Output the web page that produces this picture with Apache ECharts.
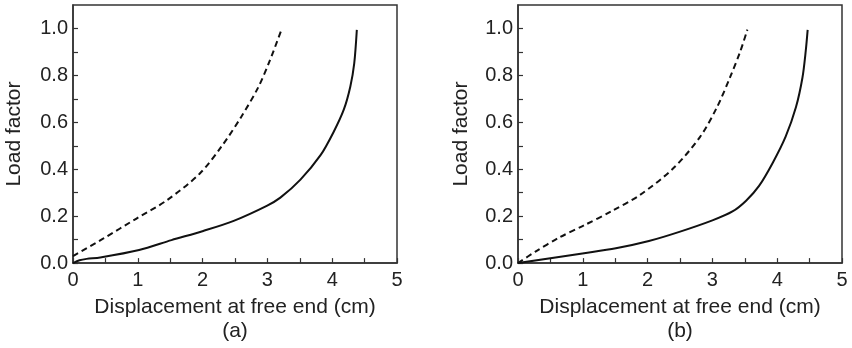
<!DOCTYPE html>
<html><head><meta charset="utf-8">
<script src="https://cdn.jsdelivr.net/npm/echarts@6/dist/echarts.min.js"></script>
<style>html,body{margin:0;padding:0;background:#fff}#c{width:852px;height:348px}</style>
</head><body><div id="c"></div>
<script>
// Panel (a)
const aSolidX = [0, 0.1, 0.21, 0.42, 1.02, 1.52, 2.01, 2.48, 2.99, 3.2, 3.51, 3.82, 4.02, 4.18, 4.28, 4.34, 4.38];
const aSolidY = [0, 0.012, 0.018, 0.024, 0.056, 0.098, 0.137, 0.18, 0.244, 0.279, 0.356, 0.46, 0.558, 0.655, 0.753, 0.851, 0.994];
const aDashX = [0, 0.47, 0.98, 1.45, 1.95, 2.3, 2.6, 2.86, 3.04, 3.22];
const aDashY = [0.03, 0.105, 0.19, 0.268, 0.38, 0.5, 0.625, 0.75, 0.865, 0.997];
// Panel (b)
const bSolidX = [0, 1.02, 1.51, 2.02, 2.49, 3.0, 3.31, 3.52, 3.72, 3.93, 4.13, 4.29, 4.39, 4.44, 4.47];
const bSolidY = [0, 0.042, 0.063, 0.094, 0.133, 0.182, 0.22, 0.266, 0.329, 0.427, 0.539, 0.665, 0.791, 0.903, 0.994];
const bDashX = [0, 0.27, 0.63, 1.02, 1.45, 1.88, 2.4, 2.81, 3.07, 3.27, 3.43, 3.54];
const bDashY = [0, 0.049, 0.108, 0.161, 0.222, 0.29, 0.405, 0.538, 0.664, 0.79, 0.902, 0.995];

const xTicks = [0, 1, 2, 3, 4, 5];
const yTicks = [0.0, 0.2, 0.4, 0.6, 0.8, 1.0];
const xName = 'Displacement at free end (cm)';
const yName = 'Load factor';
const panelLabels = ['(a)', '(b)'];

const zip = (xs, ys) => xs.map((x, i) => [x, ys[i]]);
const font = 'Liberation Sans, Arial, sans-serif';
const txt = '#222';

function xAxis(gi, label) {
  return {
    type: 'value', gridIndex: gi, min: 0, max: 5, interval: 0.5,
    name: xName + '\n' + label, nameLocation: 'middle', nameGap: 31,
    nameTextStyle: { fontFamily: font, fontSize: 21, color: txt, lineHeight: 24, verticalAlign: 'top' },
    axisLine: { show: true, onZero: false, lineStyle: { color: '#333', width: 1.5 } },
    axisTick: { show: true, inside: true, length: 5, lineStyle: { color: '#333', width: 1.2 } },
    axisLabel: { fontFamily: font, fontSize: 20, color: txt, margin: 7,
      formatter: v => (xTicks.indexOf(v) >= 0 ? String(v) : '') },
    splitLine: { show: false }
  };
}
function yAxis(gi, gap) {
  return {
    type: 'value', gridIndex: gi, min: 0, max: 1.1, interval: 0.1,
    name: yName, nameLocation: 'middle', nameGap: gap,
    nameTextStyle: { fontFamily: font, fontSize: 21, color: txt },
    axisLine: { show: true, onZero: false, lineStyle: { color: '#333', width: 1.5 } },
    axisTick: { show: true, inside: true, length: 5, lineStyle: { color: '#333', width: 1.2 } },
    axisLabel: { fontFamily: font, fontSize: 20, color: txt, margin: 5, showMaxLabel: false,
      formatter: v => { const r = Math.round(v * 10) / 10; return yTicks.some(t => Math.abs(t - r) < 1e-9) && Math.abs(v - r) < 1e-9 ? r.toFixed(1) : ''; } },
    splitLine: { show: false }
  };
}
function line(gi, data, dashed) {
  return {
    type: 'line', xAxisIndex: gi, yAxisIndex: gi, data: data, smooth: 0.3,
    showSymbol: false, symbol: 'none', silent: true,
    lineStyle: { color: '#111', width: 2, type: dashed ? [6, 4] : 'solid' }
  };
}

const chart = echarts.init(document.getElementById('c'), null, { renderer: 'canvas' });
chart.setOption({
  animation: false,
  backgroundColor: '#fff',
  grid: [
    { left: 73, width: 324, top: 5, height: 265, show: true, borderColor: '#333', borderWidth: 1.5, backgroundColor: 'transparent' },
    { left: 518, width: 324, top: 5, height: 263, show: true, borderColor: '#333', borderWidth: 1.5, backgroundColor: 'transparent' }
  ],
  xAxis: [xAxis(0, panelLabels[0]), xAxis(1, panelLabels[1])],
  yAxis: [yAxis(0, 48), yAxis(1, 46)],
  series: [
    line(0, zip(aSolidX, aSolidY), false),
    line(0, zip(aDashX, aDashY), true),
    line(1, zip(bSolidX, bSolidY), false),
    line(1, zip(bDashX, bDashY), true)
  ]
});
</script></body></html>
